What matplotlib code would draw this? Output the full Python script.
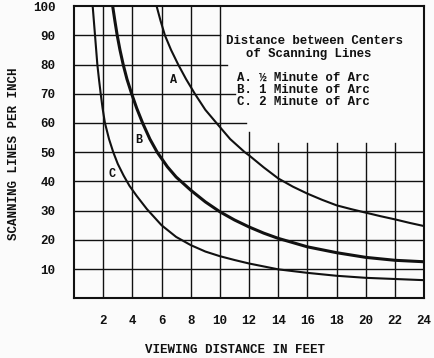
import matplotlib
matplotlib.use("Agg")
import matplotlib.pyplot as plt

# viewing distance (ft) vs scanning lines per inch
dist_a = [5.66, 5.93, 6.23, 6.65, 7.14, 7.68, 8.28, 9.0, 9.76, 10.7, 11.7, 12, 13, 14, 15, 16, 17, 18, 19, 20, 21, 22, 23, 24]
lines_a = [100, 95, 90, 85, 80, 75, 70, 64.5, 60, 54.5, 50, 48.9, 44.8, 41, 38.2, 35.8, 33.7, 31.8, 30.5, 29.3, 28.1, 27, 25.8, 24.7]

dist_b = [2.65, 2.8, 2.96, 3.15, 3.37, 3.63, 3.95, 4.3, 4.7, 5.2, 5.7, 6.4, 7, 8, 9, 10, 11, 12, 13, 14, 16, 18, 20, 22, 24]
lines_b = [100, 95, 90, 85, 80, 75, 70, 65, 60, 54.5, 50, 45, 41.5, 37, 33, 29.6, 26.8, 24.4, 22.3, 20.5, 17.6, 15.6, 14, 13, 12.5]

dist_c = [1.28, 1.36, 1.44, 1.52, 1.6, 1.71, 1.83, 1.96, 2.12, 2.4, 2.69, 3.0, 3.4, 3.8, 4.3, 5, 6, 7, 8, 9, 10, 11, 12, 14, 16, 18, 20, 22, 24]
lines_c = [100, 95, 90, 85, 80, 75, 70, 65, 60, 54.5, 50, 46, 42, 38.5, 35, 30.5, 25, 21, 18.2, 16, 14.4, 13.1, 11.9, 9.9, 8.7, 7.7, 7, 6.6, 6.2]

x_ticks = [2, 4, 6, 8, 10, 12, 14, 16, 18, 20, 22, 24]
y_ticks = [10, 20, 30, 40, 50, 60, 70, 80, 90, 100]

legend_lines = ["A. \u00bd Minute of Arc",
                "B. 1 Minute of Arc",
                "C. 2 Minute of Arc"]

mono = "Liberation Mono"
ink = "#111111"

fig = plt.figure(figsize=(4.34, 3.58), dpi=100, facecolor="#fbfbfb")
ax = fig.add_axes([0.1705, 0.1668, 0.807, 0.8162])
ax.set_facecolor("#fbfbfb")
ax.set_xlim(0, 24)
ax.set_ylim(0, 100)

# grid, cut back around the key in the upper right
h_stop = {60: 11.8, 70: 11.0, 80: 10.5, 90: 10.0}
for y in y_ticks[:-1]:
    ax.axhline(y, xmax=h_stop.get(y, 24) / 24, color=ink, lw=1.0, zorder=1)
v_start = {12: 57}
for x in x_ticks[:-1]:
    top = 100 if x <= 10 else v_start.get(x, 53)
    ax.axvline(x, ymax=top / 100, color=ink, lw=1.0, zorder=1)

ax.plot(dist_a, lines_a, color=ink, lw=1.5, zorder=3, solid_joinstyle="round")
ax.plot(dist_b, lines_b, color=ink, lw=2.2, zorder=3, solid_joinstyle="round")
ax.plot(dist_c, lines_c, color=ink, lw=1.5, zorder=3, solid_joinstyle="round")

lab = dict(family=mono, fontweight="bold", fontsize=8.5, color=ink,
           ha="center", va="center", zorder=4)
ax.text(6.84, 74.7, "A", **lab)
ax.text(4.45, 54, "B", **lab)
ax.text(2.58, 42.7, "C", **lab)

key = dict(family=mono, fontweight="bold", fontsize=8.9, color=ink, va="center")
ax.text(16.5, 88.2, "Distance between Centers", ha="center", **key)
ax.text(16.1, 83.7, "of Scanning Lines", ha="center", **key)
for i, s in enumerate(legend_lines):
    ax.text(11.2, 75.5 - 4.1 * i, s, ha="left", **key)

ax.set_xticks(x_ticks)
ax.set_yticks(y_ticks)
ax.tick_params(length=0, labelsize=9, colors=ink)
ax.tick_params(axis="y", pad=13.5)
ax.tick_params(axis="x", pad=12)
for t in ax.get_xticklabels() + ax.get_yticklabels():
    t.set_family(mono)
    t.set_fontweight("bold")

for sp in ax.spines.values():
    sp.set_linewidth(1.5)
    sp.set_color(ink)

fig.text(235 / 434, 1 - 350 / 358, "VIEWING DISTANCE IN FEET", family=mono,
         fontweight="bold", fontsize=9, color=ink, ha="center", va="center")
fig.text(14 / 434, 1 - 154 / 358, "SCANNING LINES PER INCH", family=mono,
         fontweight="bold", fontsize=9, color=ink, ha="center", va="center",
         rotation=90)

fig.savefig("out.png", dpi=100, facecolor=fig.get_facecolor())
